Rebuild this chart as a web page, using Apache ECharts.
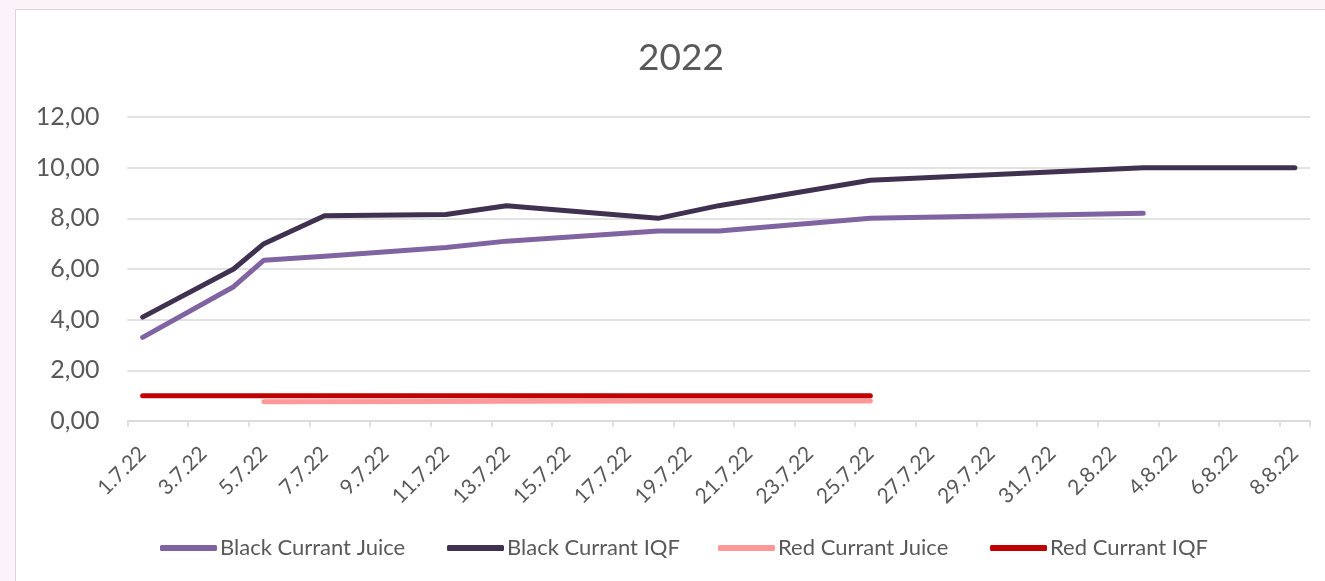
<!DOCTYPE html>
<html>
<head>
<meta charset="utf-8">
<script src="https://cdn.jsdelivr.net/npm/echarts@6/dist/echarts.min.js"></script>
<style>
  html, body { margin:0; padding:0; width:1325px; height:581px; overflow:hidden; background:#fbf3f9; }
  #frame { position:absolute; left:15px; top:9px; width:1330px; height:600px; background:#fff; border:1.5px solid #d9d9d9; }
  #chart { position:absolute; left:0; top:0; width:1325px; height:581px; }
</style>
</head>
<body>
<div id="frame"></div>
<div id="chart"></div>
<script>
const categories = ['1.7.22','2.7.22','3.7.22','4.7.22','5.7.22','6.7.22','7.7.22','8.7.22','9.7.22','10.7.22',
  '11.7.22','12.7.22','13.7.22','14.7.22','15.7.22','16.7.22','17.7.22','18.7.22','19.7.22','20.7.22',
  '21.7.22','22.7.22','23.7.22','24.7.22','25.7.22','26.7.22','27.7.22','28.7.22','29.7.22','30.7.22',
  '31.7.22','1.8.22','2.8.22','3.8.22','4.8.22','5.8.22','6.8.22','7.8.22','8.8.22'];
const seriesNames = ['Black Currant Juice','Black Currant IQF','Red Currant Juice','Red Currant IQF'];
const N = null;
const blackJuice = [3.3, N, N, 5.3, 6.35, N, 6.5, N, N, N, 6.85, N, 7.1, N, N, N, N, 7.5, N, 7.5, N, N, N, N, 8.0, N, N, N, N, N, N, N, N, 8.2, N, N, N, N, N];
const blackIQF   = [4.1, N, N, 6.0, 7.0, N, 8.1, N, N, N, 8.15, N, 8.5, N, N, N, N, 8.0, N, 8.5, N, N, N, N, 9.5, N, N, N, N, N, N, N, N, 10.0, N, N, N, N, 10.0];
const redJuice   = [N, N, N, N, 0.76, N, N, N, N, N, 0.77, N, 0.78, N, N, N, N, 0.79, N, 0.79, N, N, N, N, 0.79, N, N, N, N, N, N, N, N, N, N, N, N, N, N];
const redIQF     = [1.0, N, N, 1.0, 1.0, N, 1.0, N, N, N, 1.0, N, 1.0, N, N, N, N, 1.0, N, 1.0, N, N, N, N, 1.0, N, N, N, N, N, N, N, N, N, N, N, N, N, N];
const yTicks = { min: 0, max: 12, interval: 2 };
const colors = ['#8064a2', '#403151', '#ff9999', '#c00000'];
const dataSets = [blackJuice, blackIQF, redJuice, redIQF];
const legendLefts = [160, 447, 718, 990];

const FONT = 'Lato';
const chart = echarts.init(document.getElementById('chart'), null, { renderer: 'canvas' });
chart.setOption({
  backgroundColor: 'transparent',
  animation: false,
  title: {
    text: '2022', left: 633, top: 35,
    textStyle: { fontFamily: FONT, fontSize: 37, fontWeight: 'normal', color: '#595959' }
  },
  legend: seriesNames.map((name, i) => ({
    data: [name], left: legendLefts[i], top: 537, padding: 0,
    itemWidth: 57, itemHeight: 6, itemGap: 0,
    icon: 'roundRect',
    textStyle: { fontFamily: FONT, fontSize: 22, color: '#595959', padding: [0, 0, 0, -2] }
  })),
  grid: { left: 127.5, right: 15, top: 117, bottom: 160 },
  xAxis: {
    type: 'category', data: categories, boundaryGap: true,
    axisLine: { lineStyle: { color: '#d9d9d9', width: 1.5 } },
    axisTick: { show: true, interval: 1, length: 6, lineStyle: { color: '#d9d9d9', width: 1.5 } },
    axisLabel: { interval: 1, rotate: 45, margin: 29, fontFamily: FONT, fontSize: 21, color: '#595959' },
    splitLine: { show: false }
  },
  yAxis: {
    type: 'value', min: yTicks.min, max: yTicks.max, interval: yTicks.interval,
    axisLine: { show: false }, axisTick: { show: false },
    axisLabel: { margin: 28, fontFamily: FONT, fontSize: 25, color: '#595959',
      formatter: v => v.toFixed(2).replace('.', ',') },
    splitLine: { lineStyle: { color: '#d9d9d9', width: 1.5 } }
  },
  series: seriesNames.map((name, i) => ({
    name, type: 'line', data: dataSets[i], connectNulls: true,
    showSymbol: false, symbol: 'none',
    itemStyle: { color: colors[i] },
    lineStyle: { color: colors[i], width: 5, cap: 'round', join: 'round' },
    z: 2 + i
  }))
});
</script>
</body>
</html>
